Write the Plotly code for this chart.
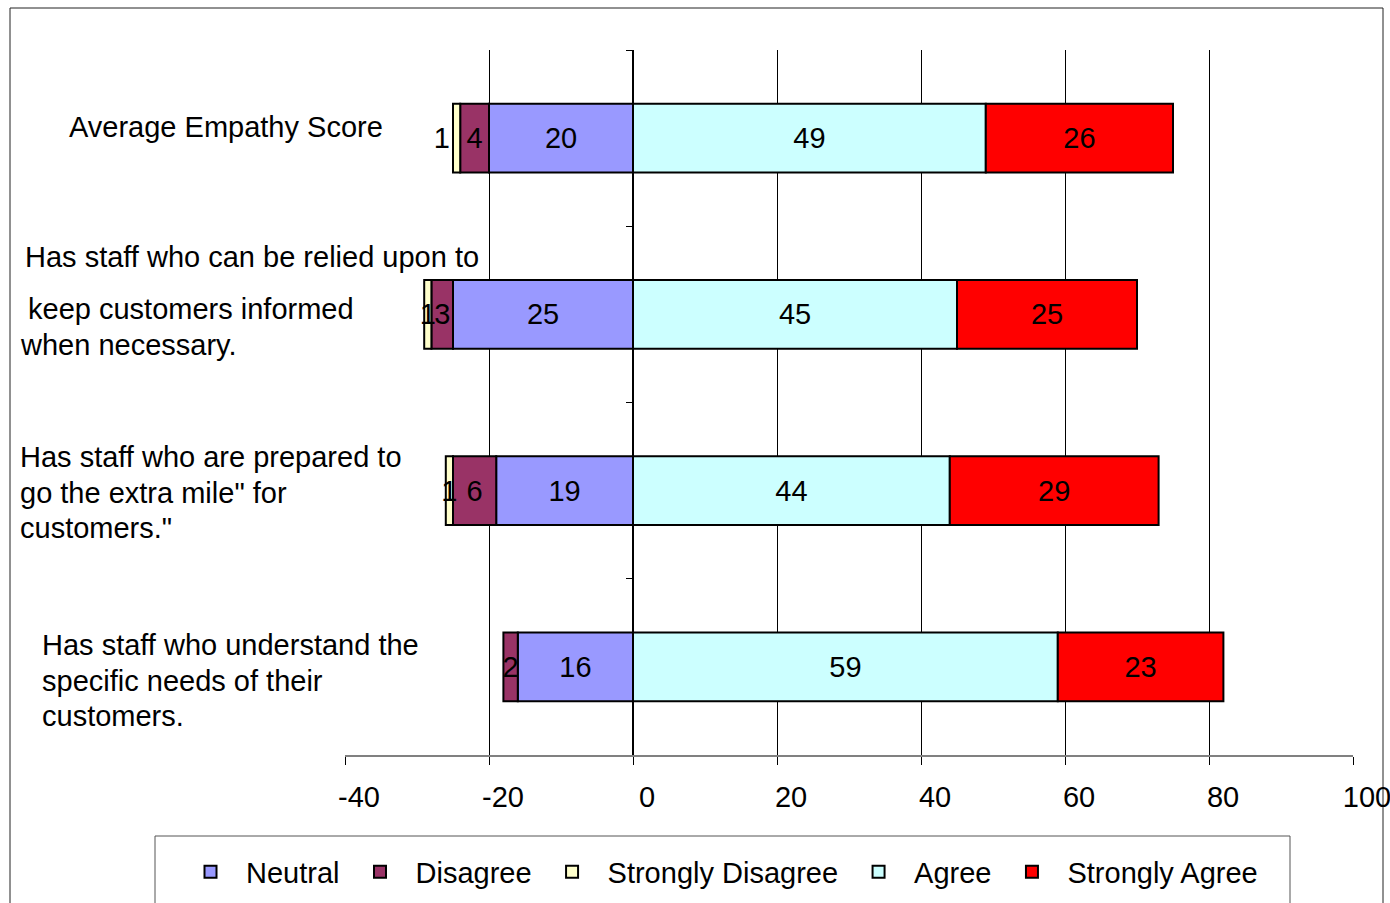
import plotly.graph_objects as go

# Survey statements, top to bottom
categories = [
    "Average Empathy Score",
    "Has staff who can be relied upon to keep customers informed when necessary.",
    'Has staff who are prepared to go the extra mile" for customers."',
    "Has staff who understand the specific needs of their customers.",
]

# Response shares (%) per statement
neutral = [20, 25, 19, 16]
disagree = [4, 3, 6, 2]
strongly_disagree = [1, 1, 1, 0]
agree = [49, 45, 44, 59]
strongly_agree = [26, 25, 29, 23]

x_ticks = [-40, -20, 0, 20, 40, 60, 80, 100]
x_tick_labels = ["-40", "-20", "0", "20", "40", "60", "80", "100"]
grid_values = [-20, 20, 40, 60, 80]

# How each statement is broken into lines for its axis label
label_lines = [
    ["Average Empathy Score"],
    ["Has staff who can be relied upon to", "keep customers informed", "when necessary."],
    ["Has staff who are prepared to", 'go the extra mile" for', 'customers."'],
    ["Has staff who understand the", "specific needs of their", "customers."],
]

FONT = "Liberation Sans, Arial, sans-serif"
FS = 29

# Plot box in pixels (page is 1390 x 903)
L, R, T, B = 345, 1353, 50, 755
W, H = 1390, 903


def px_x(px):
    return (px - L) / (R - L)


def px_y(py):
    return (B - py) / (B - T)


series = [
    ("Neutral", neutral, "#9999FF", -1),
    ("Disagree", disagree, "#993366", -1),
    ("Strongly Disagree", strongly_disagree, "#FFFFCC", -1),
    ("Agree", agree, "#CCFFFF", 1),
    ("Strongly Agree", strongly_agree, "#FF0000", 1),
]

fig = go.Figure()
for name, vals, color, sign in series:
    if name == "Strongly Disagree":
        # the thin end segment of the first row carries its label just outside
        positions = ["outside"] + ["inside"] * (len(vals) - 1)
    else:
        positions = "inside"
    fig.add_trace(go.Bar(
        y=categories,
        x=[sign * v for v in vals],
        orientation="h",
        name=name,
        marker=dict(color=color, line=dict(color="black", width=2)),
        text=[str(v) if v else "" for v in vals],
        textposition=positions,
        insidetextanchor="middle",
        textangle=0,
        constraintext="none",
        cliponaxis=False,
        textfont=dict(family=FONT, size=FS, color="black"),
        hovertemplate=name + ": %{text}<extra></extra>",
    ))

xmin, xmax = x_ticks[0], x_ticks[-1]

# Statement labels to the left of the bars
label_pos = [
    [(67, 127)],
    [(23, 257), (26, 309), (18, 345)],
    [(18, 457), (18, 493), (18, 528)],
    [(40, 645), (40, 681), (40, 716)],
]
annotations = []
for lines, poss in zip(label_lines, label_pos):
    for line, (px, py) in zip(lines, poss):
        annotations.append(dict(
            text=line, x=px_x(px), y=px_y(py), xref="paper", yref="paper",
            xanchor="left", yanchor="middle", showarrow=False,
            font=dict(family=FONT, size=FS, color="black"),
        ))

shapes = [
    # outer frame
    dict(type="rect", xref="paper", yref="paper",
         x0=px_x(10), x1=px_x(1383), y0=px_y(8), y1=px_y(915),
         line=dict(color="#222222", width=1), fillcolor="rgba(0,0,0,0)", layer="below"),
    # legend box
    dict(type="rect", xref="paper", yref="paper",
         x0=px_x(155), x1=px_x(1290), y0=px_y(836), y1=px_y(915),
         line=dict(color="#555555", width=1), fillcolor="rgba(0,0,0,0)", layer="below"),
]

fig.update_layout(
    width=W, height=H,
    barmode="relative",
    bargap=0.61,
    paper_bgcolor="white",
    plot_bgcolor="white",
    margin=dict(l=L, r=W - R, t=T, b=H - B, pad=0, autoexpand=False),
    font=dict(family=FONT, size=FS, color="black"),
    uniformtext=dict(minsize=FS, mode="show"),
    showlegend=True,
    legend=dict(
        orientation="h", x=px_x(175), xanchor="left", y=px_y(872), yanchor="middle",
        font=dict(family=FONT, size=FS, color="black"),
        bgcolor="rgba(0,0,0,0)", borderwidth=0, traceorder="normal",
        itemwidth=61,
    ),
    xaxis=dict(
        range=[xmin, xmax], tickmode="array", tickvals=x_ticks, ticktext=x_tick_labels,
        ticks="outside", ticklen=8, tickcolor="black", tickwidth=1,
        showline=True, linecolor="#808080", linewidth=1.5,
        showgrid=False, zeroline=False,
        minor=dict(tickmode="array", tickvals=grid_values, showgrid=True,
                   gridcolor="black", gridwidth=1, ticks=""),
        ticklabelshift=14, ticklabelstandoff=7, ticklabeloverflow="allow",
        tickfont=dict(family=FONT, size=FS, color="black"),
        fixedrange=True,
    ),
    yaxis=dict(
        type="category", categoryorder="array", categoryarray=categories,
        autorange="reversed",
        anchor="free", position=(0 - xmin) / (xmax - xmin),
        showline=True, linecolor="black", linewidth=1.5,
        ticks="outside", tickson="boundaries", ticklen=6, tickcolor="black",
        showticklabels=False, showgrid=False, zeroline=False,
        fixedrange=True,
    ),
    annotations=annotations,
    shapes=shapes,
)

fig.write_html("out.html")
